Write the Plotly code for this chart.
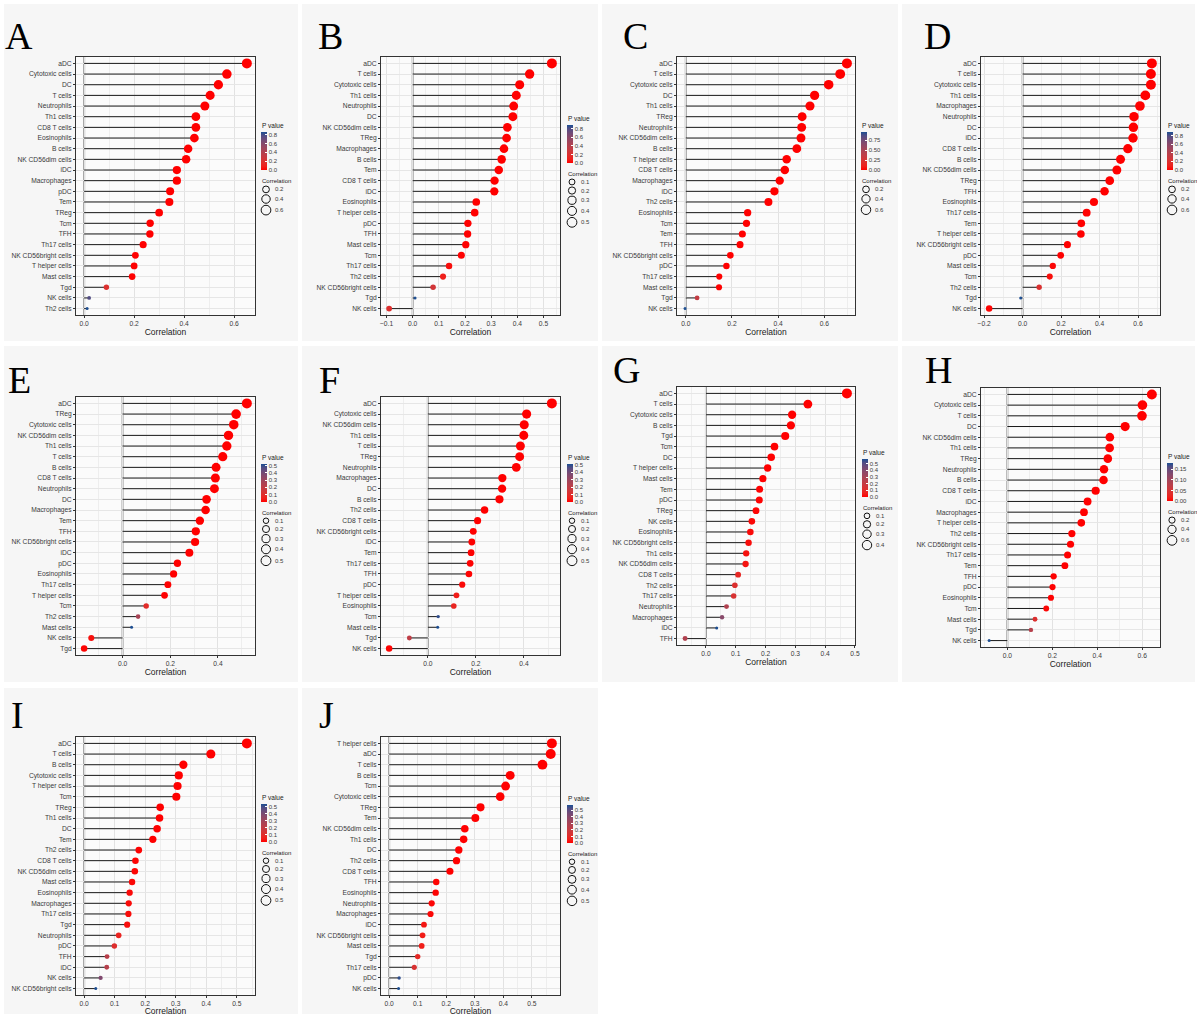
import math
import plotly.graph_objects as go

W, H = 1197, 1016

# ---------------- data ----------------
A_cells = ["aDC", "Cytotoxic cells", "DC", "T cells", "Neutrophils", "Th1 cells", "CD8 T cells", "Eosinophils",
           "B cells", "NK CD56dim cells", "iDC", "Macrophages", "pDC", "Tem", "TReg", "Tcm", "TFH", "Th17 cells",
           "NK CD56bright cells", "T helper cells", "Mast cells", "Tgd", "NK cells", "Th2 cells"]
A_corr = [0.651, 0.571, 0.537, 0.504, 0.483, 0.447, 0.447, 0.441, 0.416, 0.408, 0.371, 0.371, 0.344, 0.341,
          0.300, 0.264, 0.263, 0.236, 0.205, 0.200, 0.192, 0.089, 0.020, 0.012]
A_pval = [0.0, 0.0, 0.0, 0.0, 0.0, 0.0, 0.0, 0.0, 0.0, 0.0, 0.0, 0.0, 0.0, 0.0, 0.0, 0.0001, 0.0001, 0.0004,
          0.002, 0.003, 0.004, 0.19, 0.77, 0.86]

B_cells = ["aDC", "T cells", "Cytotoxic cells", "Th1 cells", "Neutrophils", "DC", "NK CD56dim cells", "TReg",
           "Macrophages", "B cells", "Tem", "CD8 T cells", "iDC", "Eosinophils", "T helper cells", "pDC", "TFH",
           "Mast cells", "Tcm", "Th17 cells", "Th2 cells", "NK CD56bright cells", "Tgd", "NK cells"]
B_corr = [0.532, 0.447, 0.409, 0.396, 0.386, 0.383, 0.362, 0.359, 0.349, 0.340, 0.329, 0.313, 0.312, 0.243,
          0.237, 0.211, 0.210, 0.203, 0.186, 0.139, 0.116, 0.078, 0.009, -0.090]
B_pval = [0.0, 0.0, 0.0, 0.0, 0.0, 0.0, 0.0, 0.0, 0.0, 0.0, 0.0, 0.0, 0.0, 0.0003, 0.0004, 0.002, 0.002,
          0.003, 0.006, 0.04, 0.09, 0.25, 0.89, 0.19]

C_cells = ["aDC", "T cells", "Cytotoxic cells", "DC", "Th1 cells", "TReg", "Neutrophils", "NK CD56dim cells",
           "B cells", "T helper cells", "CD8 T cells", "Macrophages", "iDC", "Th2 cells", "Eosinophils", "Tcm",
           "Tem", "TFH", "NK CD56bright cells", "pDC", "Th17 cells", "Mast cells", "Tgd", "NK cells"]
C_corr = [0.698, 0.669, 0.619, 0.558, 0.538, 0.504, 0.502, 0.499, 0.481, 0.437, 0.429, 0.407, 0.384, 0.358,
          0.268, 0.263, 0.245, 0.235, 0.193, 0.176, 0.145, 0.144, 0.049, -0.003]
C_pval = [0.0, 0.0, 0.0, 0.0, 0.0, 0.0, 0.0, 0.0, 0.0, 0.0, 0.0, 0.0, 0.0, 0.0, 0.0, 0.0, 0.0, 0.0, 0.0002,
          0.0007, 0.005, 0.006, 0.35, 0.95]

D_cells = ["aDC", "T cells", "Cytotoxic cells", "Th1 cells", "Macrophages", "Neutrophils", "DC", "iDC",
           "CD8 T cells", "B cells", "NK CD56dim cells", "TReg", "TFH", "Eosinophils", "Th17 cells", "Tem",
           "T helper cells", "NK CD56bright cells", "pDC", "Mast cells", "Tcm", "Th2 cells", "Tgd", "NK cells"]
D_corr = [0.672, 0.667, 0.667, 0.638, 0.610, 0.579, 0.576, 0.574, 0.547, 0.509, 0.490, 0.453, 0.426, 0.371,
          0.333, 0.305, 0.303, 0.233, 0.198, 0.157, 0.141, 0.086, -0.010, -0.174]
D_pval = [0.0, 0.0, 0.0, 0.0, 0.0, 0.0, 0.0, 0.0, 0.0, 0.0, 0.0, 0.0, 0.0, 0.0, 0.0, 0.0, 0.0, 0.0005,
          0.003, 0.02, 0.04, 0.2, 0.88, 0.01]

E_cells = ["aDC", "TReg", "Cytotoxic cells", "NK CD56dim cells", "Th1 cells", "T cells", "B cells",
           "CD8 T cells", "Neutrophils", "DC", "Macrophages", "Tem", "TFH", "NK CD56bright cells", "iDC", "pDC",
           "Eosinophils", "Th17 cells", "T helper cells", "Tcm", "Th2 cells", "Mast cells", "NK cells", "Tgd"]
E_corr = [0.521, 0.476, 0.466, 0.444, 0.437, 0.420, 0.392, 0.389, 0.385, 0.352, 0.348, 0.324, 0.307, 0.304,
          0.280, 0.230, 0.214, 0.190, 0.176, 0.099, 0.065, 0.038, -0.131, -0.161]
E_pval = [0.0, 0.0, 0.0, 0.0, 0.0, 0.0, 0.0, 0.0, 0.0, 0.0, 0.0, 0.0, 0.0, 0.0, 0.0, 0.0, 0.0003, 0.001,
          0.003, 0.095, 0.27, 0.52, 0.026, 0.006]

F_cells = ["aDC", "Cytotoxic cells", "NK CD56dim cells", "Th1 cells", "T cells", "TReg", "Neutrophils",
           "Macrophages", "DC", "B cells", "Th2 cells", "CD8 T cells", "NK CD56bright cells", "iDC", "Tem",
           "Th17 cells", "TFH", "pDC", "T helper cells", "Eosinophils", "Tcm", "Mast cells", "Tgd", "NK cells"]
F_corr = [0.516, 0.411, 0.401, 0.399, 0.385, 0.382, 0.368, 0.310, 0.309, 0.298, 0.236, 0.207, 0.189, 0.183,
          0.180, 0.176, 0.171, 0.143, 0.119, 0.108, 0.043, 0.041, -0.077, -0.161]
F_pval = [0.0, 0.0, 0.0, 0.0, 0.0, 0.0, 0.0, 0.0, 0.0, 0.0, 0.0, 0.0, 0.001, 0.002, 0.002, 0.003, 0.004,
          0.015, 0.045, 0.07, 0.49, 0.51, 0.2, 0.006]

G_cells = ["aDC", "T cells", "Cytotoxic cells", "B cells", "Tgd", "Tcm", "DC", "T helper cells", "Mast cells",
           "Tem", "pDC", "TReg", "NK cells", "Eosinophils", "NK CD56bright cells", "Th1 cells", "NK CD56dim cells",
           "CD8 T cells", "Th2 cells", "Th17 cells", "Neutrophils", "Macrophages", "iDC", "TFH"]
G_corr = [0.473, 0.342, 0.289, 0.285, 0.266, 0.230, 0.219, 0.207, 0.191, 0.180, 0.179, 0.168, 0.154, 0.149,
          0.143, 0.135, 0.133, 0.108, 0.097, 0.093, 0.069, 0.054, 0.036, -0.070]
G_pval = [0.0, 0.0, 0.0, 0.0, 0.0, 0.0, 0.0, 0.0, 0.0, 0.004, 0.004, 0.008, 0.014, 0.018, 0.023, 0.032,
          0.035, 0.087, 0.125, 0.14, 0.27, 0.39, 0.57, 0.27]

H_cells = ["aDC", "Cytotoxic cells", "T cells", "DC", "NK CD56dim cells", "Th1 cells", "TReg", "Neutrophils",
           "B cells", "CD8 T cells", "iDC", "Macrophages", "T helper cells", "Th2 cells", "NK CD56bright cells",
           "Th17 cells", "Tem", "TFH", "pDC", "Eosinophils", "Tcm", "Mast cells", "Tgd", "NK cells"]
H_corr = [0.643, 0.601, 0.599, 0.524, 0.456, 0.455, 0.447, 0.430, 0.428, 0.393, 0.357, 0.341, 0.329, 0.287,
          0.281, 0.268, 0.256, 0.206, 0.201, 0.194, 0.173, 0.123, 0.105, -0.081]
H_pval = [0.0, 0.0, 0.0, 0.0, 0.0, 0.0, 0.0, 0.0, 0.0, 0.0, 0.0, 0.0, 0.0, 0.0, 0.0, 0.0, 0.0, 0.0006,
          0.0008, 0.001, 0.004, 0.04, 0.08, 0.18]

I_cells = ["aDC", "T cells", "B cells", "Cytotoxic cells", "T helper cells", "Tcm", "TReg", "Th1 cells", "DC",
           "Tem", "Th2 cells", "CD8 T cells", "NK CD56dim cells", "Mast cells", "Eosinophils", "Macrophages",
           "Th17 cells", "Tgd", "Neutrophils", "pDC", "TFH", "iDC", "NK cells", "NK CD56bright cells"]
I_corr = [0.533, 0.415, 0.325, 0.310, 0.306, 0.302, 0.249, 0.247, 0.239, 0.225, 0.179, 0.168, 0.166, 0.157,
          0.149, 0.146, 0.145, 0.141, 0.113, 0.099, 0.075, 0.074, 0.054, 0.038]
I_pval = [0.0, 0.0, 0.0, 0.0, 0.0, 0.0, 0.0, 0.0, 0.0, 0.0, 0.004, 0.007, 0.008, 0.012, 0.017, 0.019, 0.02,
          0.024, 0.07, 0.11, 0.23, 0.24, 0.39, 0.54]

J_cells = ["T helper cells", "aDC", "T cells", "B cells", "Tcm", "Cytotoxic cells", "TReg", "Tem",
           "NK CD56dim cells", "Th1 cells", "DC", "Th2 cells", "CD8 T cells", "TFH", "Eosinophils", "Neutrophils",
           "Macrophages", "iDC", "NK CD56bright cells", "Mast cells", "Tgd", "Th17 cells", "pDC", "NK cells"]
J_corr = [0.570, 0.566, 0.537, 0.424, 0.408, 0.389, 0.320, 0.302, 0.265, 0.261, 0.244, 0.236, 0.213, 0.165,
          0.163, 0.149, 0.145, 0.122, 0.117, 0.114, 0.100, 0.088, 0.035, 0.033]
J_pval = [0.0, 0.0, 0.0, 0.0, 0.0, 0.0, 0.0, 0.0, 0.0, 0.0, 0.0, 0.0, 0.0, 0.005, 0.006, 0.012, 0.015, 0.04,
          0.05, 0.056, 0.095, 0.14, 0.56, 0.58]

# axis tick steps, colorbar tick steps/format, size-legend breaks
x_steps = {"A": 0.2, "B": 0.1, "C": 0.2, "D": 0.2, "E": 0.2, "F": 0.2, "G": 0.1, "H": 0.2, "I": 0.1, "J": 0.1}
p_ticks = {"A": (0.2, ".1f"), "B": (0.2, ".1f"), "C": (0.25, ".2f"), "D": (0.2, ".1f"), "E": (0.1, ".1f"),
           "F": (0.1, ".1f"), "G": (0.1, ".1f"), "H": (0.05, ".2f"), "I": (0.1, ".1f"), "J": (0.1, ".1f")}
size_breaks = {"A": [0.2, 0.4, 0.6], "B": [0.1, 0.2, 0.3, 0.4, 0.5], "C": [0.2, 0.4, 0.6], "D": [0.2, 0.4, 0.6],
               "E": [0.1, 0.2, 0.3, 0.4, 0.5], "F": [0.1, 0.2, 0.3, 0.4, 0.5], "G": [0.1, 0.2, 0.3, 0.4],
               "H": [0.2, 0.4, 0.6], "I": [0.1, 0.2, 0.3, 0.4, 0.5], "J": [0.1, 0.2, 0.3, 0.4, 0.5]}

panels = [("A", A_cells, A_corr, A_pval), ("B", B_cells, B_corr, B_pval), ("C", C_cells, C_corr, C_pval),
          ("D", D_cells, D_corr, D_pval), ("E", E_cells, E_corr, E_pval), ("F", F_cells, F_corr, F_pval),
          ("G", G_cells, G_corr, G_pval), ("H", H_cells, H_corr, H_pval), ("I", I_cells, I_corr, I_pval),
          ("J", J_cells, J_corr, J_pval)]

# ---------------- layout geometry (pixels) ----------------
geom = {
    "A": dict(plot=(76, 255, 57, 315), cb=(261, 132), letter=(19, 36), bg=(4, 298, 4, 341)),
    "B": dict(plot=(381, 560, 57, 315), cb=(567, 125), letter=(330, 36), bg=(302, 598, 4, 341)),
    "C": dict(plot=(677, 855, 57, 315), cb=(861, 132), letter=(635, 36), bg=(602, 898, 4, 341)),
    "D": dict(plot=(981, 1160, 57, 315), cb=(1167, 132), letter=(937, 36), bg=(902, 1195, 4, 341)),
    "E": dict(plot=(76, 255, 397, 655), cb=(261, 464), letter=(19, 380), bg=(4, 298, 346, 682)),
    "F": dict(plot=(381, 560, 397, 655), cb=(567, 464), letter=(329, 380), bg=(302, 598, 346, 682)),
    "G": dict(plot=(677, 855, 387, 645), cb=(862, 459), letter=(626, 370), bg=(602, 898, 346, 682)),
    "H": dict(plot=(981, 1160, 388, 647), cb=(1167, 463), letter=(938, 370), bg=(902, 1195, 346, 682)),
    "I": dict(plot=(76, 255, 737, 995), cb=(261, 804), letter=(17, 715), bg=(4, 298, 688, 1014)),
    "J": dict(plot=(381, 560, 737, 995), cb=(567, 805), letter=(326, 715), bg=(302, 598, 688, 1014)),
}


# ---------------- colour scale: Lab interpolation red -> navy ----------------
def _lin(c):
    c = c / 255.0
    return c / 12.92 if c <= 0.04045 else ((c + 0.055) / 1.055) ** 2.4


def _gam(c):
    c = max(0.0, c)
    c = 12.92 * c if c <= 0.0031308 else 1.055 * c ** (1 / 2.4) - 0.055
    return max(0, min(255, round(c * 255)))


WHITE = (0.95047, 1.0, 1.08883)


def hex2lab(h):
    r, g, b = [_lin(int(h[i:i + 2], 16)) for i in (1, 3, 5)]
    X = 0.4124 * r + 0.3576 * g + 0.1805 * b
    Y = 0.2126 * r + 0.7152 * g + 0.0722 * b
    Z = 0.0193 * r + 0.1192 * g + 0.9505 * b
    f = lambda t: t ** (1 / 3) if t > 0.008856 else 7.787 * t + 16 / 116
    fx, fy, fz = f(X / WHITE[0]), f(Y / WHITE[1]), f(Z / WHITE[2])
    return (116 * fy - 16, 500 * (fx - fy), 200 * (fy - fz))


def lab2hex(L, a, b):
    fy = (L + 16) / 116
    fx = fy + a / 500
    fz = fy - b / 200
    finv = lambda t: t ** 3 if t ** 3 > 0.008856 else (t - 16 / 116) / 7.787
    X, Y, Z = finv(fx) * WHITE[0], finv(fy) * WHITE[1], finv(fz) * WHITE[2]
    r = 3.2406 * X - 1.5372 * Y - 0.4986 * Z
    g = -0.9689 * X + 1.8758 * Y + 0.0415 * Z
    bb = 0.0557 * X - 0.2040 * Y + 1.0570 * Z
    return "#%02x%02x%02x" % (_gam(r), _gam(g), _gam(bb))


lo, hi = hex2lab("#FF0000"), hex2lab("#1D4E91")
cscale = []
for k in range(11):
    t = k / 10
    cscale.append([t, lab2hex(*[lo[j] + (hi[j] - lo[j]) * t for j in range(3)])])

TXT = "#3a3a3a"
FONT = "Liberation Sans, Arial, sans-serif"


def px_x(v):
    return v / W


def px_y(v):
    return 1 - v / H


fig = go.Figure()
layout = dict(width=W, height=H, margin=dict(l=0, r=0, t=0, b=0), paper_bgcolor="white",
              plot_bgcolor="rgba(0,0,0,0)", showlegend=False, font=dict(family=FONT, color=TXT))
shapes, annotations = [], []

for i, (name, cells, corr, pval) in enumerate(panels):
    n = "" if i == 0 else str(i + 1)
    g = geom[name]
    x0, x1, y0, y1 = g["plot"]
    # backgrounds
    bx0, bx1, by0, by1 = g["bg"]
    shapes.append(dict(type="rect", xref="paper", yref="paper", x0=px_x(bx0), x1=px_x(bx1), y0=px_y(by1),
                       y1=px_y(by0), fillcolor="#f6f6f6", line=dict(width=0), layer="below"))
    shapes.append(dict(type="rect", xref="paper", yref="paper", x0=px_x(x0), x1=px_x(x1), y0=px_y(y1),
                       y1=px_y(y0), fillcolor="#fbfbfb", line=dict(width=0), layer="below"))

    lo_v = min(0.0, min(corr))
    hi_v = max(0.0, max(corr))
    span = hi_v - lo_v
    xr = [lo_v - 0.05 * span, hi_v + 0.05 * span]
    step = x_steps[name]

    layout["xaxis" + n] = dict(domain=[px_x(x0), px_x(x1)], anchor="y" + n, range=xr, tick0=0, dtick=step,
                               tickformat=".1f", showgrid=True, gridcolor="#e2e2e2", gridwidth=1,
                               minor=dict(dtick=step / 2, tick0=0, showgrid=True, gridcolor="#eeeeee",
                                          gridwidth=0.6),
                               zeroline=False, showline=True, mirror=True, linecolor="#333333", linewidth=1,
                               ticks="outside", ticklen=2, tickcolor="#333333",
                               tickfont=dict(size=6.7, color=TXT, family=FONT),
                               title=dict(text="Correlation", font=dict(size=8.5, color="#1a1a1a", family=FONT),
                                          standoff=0),
                               automargin=False)
    layout["yaxis" + n] = dict(domain=[px_y(y1), px_y(y0)], anchor="x" + n, type="category",
                               categoryorder="array", categoryarray=list(reversed(cells)),
                               tickmode="array", tickvals=cells,
                               range=[-0.6, len(cells) - 1 + 0.6], showgrid=True, gridcolor="#e6e6e6",
                               gridwidth=1, zeroline=False, showline=True, mirror=True, linecolor="#333333",
                               linewidth=1, ticks="outside", ticklen=2, tickcolor="#333333",
                               tickfont=dict(size=6.7, color=TXT, family=FONT), automargin=False)

    # zero reference line
    shapes.append(dict(type="line", xref="x" + n, yref="y" + n + " domain", x0=0, x1=0, y0=0, y1=1,
                       line=dict(color="#9a9a9a", width=2), layer="below"))

    # lollipop stems
    sx, sy = [], []
    for c, v in zip(cells, corr):
        sx += [0, v, None]
        sy += [c, c, None]
    fig.add_trace(go.Scatter(x=sx, y=sy, mode="lines", line=dict(color="#1a1a1a", width=1),
                             xaxis="x" + n, yaxis="y" + n, hoverinfo="skip"))

    # dots
    absv = [abs(v) for v in corr]
    amin, amax = min(absv), max(absv)

    def dsize(a, amin=amin, amax=amax):
        t = max(0.0, (a - amin) / (amax - amin))
        return 3 + 7 * math.sqrt(t)

    ca = "coloraxis" + n
    fig.add_trace(go.Scatter(x=corr, y=cells, mode="markers",
                             marker=dict(size=[dsize(a) for a in absv], color=pval, coloraxis=ca,
                                         line=dict(width=0), opacity=1),
                             xaxis="x" + n, yaxis="y" + n))

    cbx, cby = g["cb"]
    pstep, pfmt = p_ticks[name]
    layout[ca] = dict(cmin=min(pval), cmax=max(pval), colorscale=cscale,
                      colorbar=dict(x=px_x(cbx), xanchor="left", xpad=0, y=px_y(cby), yanchor="top",
                                    ypad=0, thickness=6, len=38, lenmode="pixels", outlinewidth=0,
                                    tickmode="linear", tick0=0, dtick=pstep, tickformat=pfmt,
                                    ticks="inside", ticklen=2, tickcolor="white", tickwidth=1,
                                    tickfont=dict(size=6, color=TXT, family=FONT)))
    annotations.append(dict(xref="paper", yref="paper", x=px_x(cbx - 1), y=px_y(cby - 1), xanchor="left",
                            yanchor="bottom", showarrow=False, text="P value",
                            font=dict(size=6.5, color="#1a1a1a", family=FONT)))
    annotations.append(dict(xref="paper", yref="paper", x=px_x(cbx - 1), y=px_y(cby + 49), xanchor="left",
                            yanchor="middle", showarrow=False, text="Correlation",
                            font=dict(size=6, color="#1a1a1a", family=FONT)))
    # size legend
    ycur = cby + 53
    cx = cbx + 5
    for b in size_breaks[name]:
        d = dsize(b)
        kh = d + 2
        cy = ycur + kh / 2
        shapes.append(dict(type="circle", xref="paper", yref="paper", x0=px_x(cx - d / 2), x1=px_x(cx + d / 2),
                           y0=px_y(cy + d / 2), y1=px_y(cy - d / 2), line=dict(color="#111111", width=1),
                           fillcolor="rgba(0,0,0,0)", layer="above"))
        annotations.append(dict(xref="paper", yref="paper", x=px_x(cbx + 12), y=px_y(cy), xanchor="left",
                                yanchor="middle", showarrow=False, text="%.1f" % b,
                                font=dict(size=6, color=TXT, family=FONT)))
        ycur += kh

    lx, ly = g["letter"]
    annotations.append(dict(xref="paper", yref="paper", x=px_x(lx), y=px_y(ly), xanchor="center",
                            yanchor="middle", showarrow=False, text=name,
                            font=dict(size=38, color="black", family="Liberation Serif, Times New Roman, serif")))

layout["shapes"] = shapes
layout["annotations"] = annotations
fig.update_layout(**layout)
fig.write_html("out.html", config={"displayModeBar": False},
               post_script="document.body.style.margin='0px';document.body.style.overflow='hidden';")
